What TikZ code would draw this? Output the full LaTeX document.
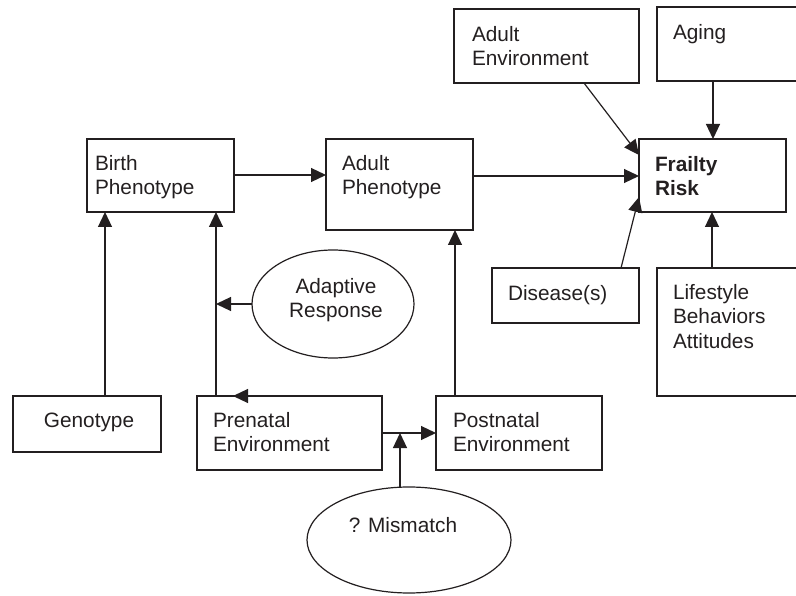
\documentclass[tikz,border=0pt]{standalone}
\usepackage{fontspec}
\setmainfont{Liberation Sans}
\usetikzlibrary{arrows.meta,calc,shapes.geometric}
\definecolor{ink}{HTML}{231F20}
\begin{document}
\begin{tikzpicture}[x=1pt,y=-1pt,
  every node/.style={inner sep=0pt,outer sep=0pt},
  box/.style={draw=ink,line width=1.2pt,anchor=north west},
  oval/.style={draw=ink,line width=1.2pt,ellipse},
  lbl/.style={text=ink,font=\fontsize{20.8}{24.5}\selectfont,align=left,anchor=north west},
  arr/.style={draw=ink,line width=1.2pt,-{Triangle[length=15pt,width=14pt]}},
  ln/.style={draw=ink,line width=1.2pt}]
\useasboundingbox (0,0) rectangle (796,596);
\clip (0,0) rectangle (796,596);

% boxes
\node[box,minimum width=185pt,minimum height=74pt] (ae) at (454,9) {};
\node[box,minimum width=160pt,minimum height=74pt] (ag) at (657,7) {};
\node[box,minimum width=147pt,minimum height=73pt] (bp) at (87,139) {};
\node[box,minimum width=147pt,minimum height=91pt] (ap) at (326,139) {};
\node[box,minimum width=147pt,minimum height=73pt] (fr) at (639,139) {};
\node[box,minimum width=147pt,minimum height=55pt] (ds) at (492,268) {};
\node[box,minimum width=160pt,minimum height=128pt] (ls) at (657,268) {};
\node[box,minimum width=148pt,minimum height=56pt] (ge) at (13,396) {};
\node[box,minimum width=185pt,minimum height=74pt] (pre) at (197,396) {};
\node[box,minimum width=166pt,minimum height=74pt] (post) at (436,396) {};

% ellipses
\node[oval,minimum width=162pt,minimum height=108pt] (ar) at (333,304) {};
\node[oval,minimum width=204pt,minimum height=106pt] (mm) at (409,540) {};

% labels
\node[lbl] (t-ae) at (472,26.1) {Adult\\Environment};
\node[lbl] (t-ag) at (673,24.1) {Aging};
\node[lbl,font=\fontsize{20.8}{24.5}\selectfont\bfseries] (t-fr) at (655,156.1) {Frailty\\Risk};
\node[lbl] (t-bp) at (95,155.1) {Birth\\Phenotype};
\node[lbl] (t-ap) at (342,155.1) {Adult\\Phenotype};
\node[lbl] (t-ds) at (508,285.1) {Disease(s)};
\node[lbl] (t-ls) at (673,284.1) {Lifestyle\\Behaviors\\Attitudes};
\node[lbl,anchor=base] (t-ge) at (89,428) {Genotype};
\node[lbl] (t-pre) at (213,412.1) {Prenatal\\Environment};
\node[lbl] (t-post) at (453,412.1) {Postnatal\\Environment};
\node[lbl,align=center,anchor=north] (t-ar) at (336,278.1) {Adaptive\\Response};
\node[lbl,anchor=base] (t-mm) at (403,532) {? Mismatch};

% helper points on the connectors
\coordinate (pl) at ($(pre.north west)+(19,0)$);
\coordinate (mmj) at ($(pre.east)+(18,0)$);

% connectors
\draw[arr] ($(bp.north east)+(0,36)$) -- ($(ap.north west)+(0,36)$);
\draw[arr] ($(ap.north east)+(0,37)$) -- ($(fr.north west)+(0,37)$);
\draw[arr] ($(ae.south west)+(130,0)$) -- ($(fr.north west)+(0,16)$);
\draw[arr] ($(ag.south west)+(56,0)$) -- ($(fr.north west)+(74,0)$);
\draw[arr] ($(ds.north east)+(-18,0)$) -- ($(fr.north west)+(0,58)$);
\draw[arr] ($(ls.north west)+(55,0)$) -- ($(fr.south west)+(73,0)$);
\draw[arr] ($(ge.north west)+(92,0)$) -- ($(bp.south west)+(18,0)$);
\draw[arr] (pl) -- ($(bp.south west)+(129,0)$);
\draw[arr] (ar.west) -- (ar.west -| pl);
\draw[arr] ($(post.north west)+(19,0)$) -- ($(ap.south west)+(129,0)$);
\draw[arr] (pre.east) -- (post.west);
\draw[arr] (mmj |- mm.north) -- (mmj);
\draw[arr] ($(pre.north west)+(56,0)$) -- ($(pre.north west)+(36,0)$);
\end{tikzpicture}
\end{document}
